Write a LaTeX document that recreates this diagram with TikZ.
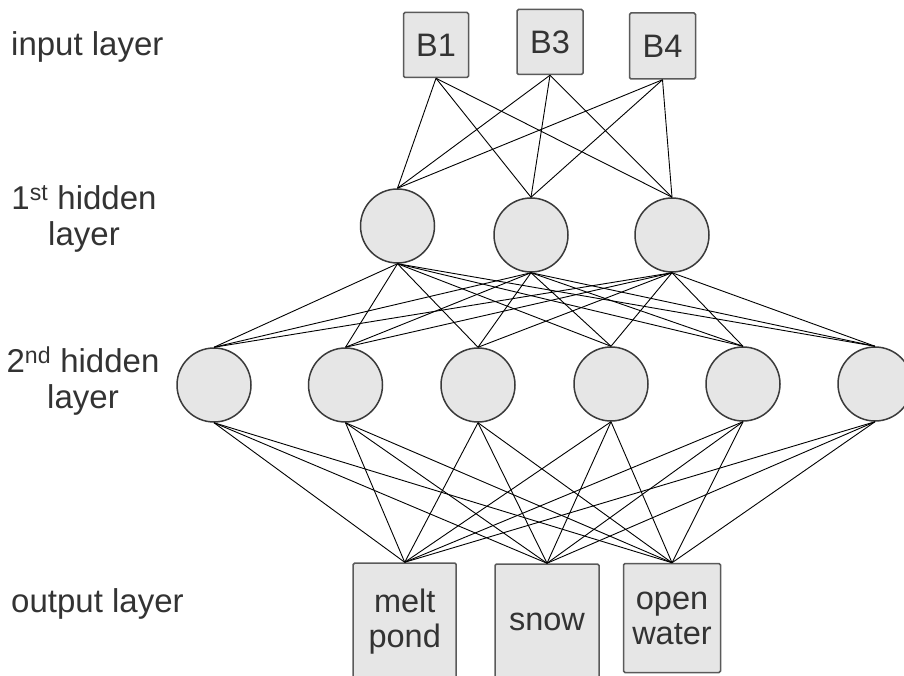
\documentclass[tikz,border=0pt]{standalone}
\usepackage{fontspec}
\setmainfont{Liberation Sans}
\definecolor{nodefill}{HTML}{E6E6E6}
\definecolor{boxline}{HTML}{5A5A5A}
\definecolor{circline}{HTML}{3A3A3A}
\definecolor{txt}{HTML}{333333}
\begin{document}
\begin{tikzpicture}[x=1pt,y=-1pt,
  box/.style={draw=boxline, fill=nodefill, line width=1.5pt, rounded corners=1.5pt, text=txt,
    font=\fontsize{32.5}{35}\selectfont, align=center, inner sep=0pt},
  neuron/.style={circle, draw=circline, fill=nodefill, line width=1.5pt, minimum size=74pt, inner sep=0pt},
  lbl/.style={text=txt, font=\fontsize{33}{36}\selectfont, align=center, inner sep=0pt},
  link/.style={draw=black, line width=0.9pt}]
\useasboundingbox (0,0) rectangle (904,676);
\clip (0,0) rectangle (904,676);
% input layer
\node[box, minimum width=65pt, minimum height=65pt] (b1) at (436,45) {B1};
\node[box, minimum width=66pt, minimum height=65pt] (b3) at (550,42) {B3};
\node[box, minimum width=66pt, minimum height=66pt] (b4) at (662.5,46) {B4};
% first hidden layer
\node[neuron] (h1) at (397.5,226) {};
\node[neuron] (h2) at (531,235) {};
\node[neuron] (h3) at (672,235) {};
% second hidden layer
\node[neuron] (g1) at (214,385) {};
\node[neuron] (g2) at (345.5,385) {};
\node[neuron] (g3) at (478,385) {};
\node[neuron] (g4) at (611,384) {};
\node[neuron] (g5) at (743,384) {};
\node[neuron] (g6) at (875,384) {};
% output layer
\node[box, minimum width=103pt, minimum height=118pt] (o1) at (404.7,622) {melt\\pond};
\node[box, minimum width=104pt, minimum height=116pt] (o2) at (547,622) {snow};
\node[box, minimum width=97pt, minimum height=109pt] (o3) at (672,618) {open\\water};
% connectors
\foreach \a in {b1,b3,b4}{\foreach \b in {h1,h2,h3}{\draw[link] (\a.south) -- (\b.north);}}
\foreach \a in {h1,h2,h3}{\foreach \b in {g1,g2,g3,g4,g5,g6}{\draw[link] (\a.south) -- (\b.north);}}
\foreach \a in {g1,g2,g3,g4,g5,g6}{\foreach \b in {o1,o2,o3}{\draw[link] (\a.south) -- (\b.north);}}
% labels
\node[lbl, anchor=west] (lin) at (11,47) {input layer};
\node[lbl] (lh1) at (84,219) {1\textsuperscript{st} hidden\\layer};
\node[lbl] (lh2) at (83,381) {2\textsuperscript{nd} hidden\\layer};
\node[lbl, anchor=west] (lout) at (11,604) {output layer};
\end{tikzpicture}
\end{document}
